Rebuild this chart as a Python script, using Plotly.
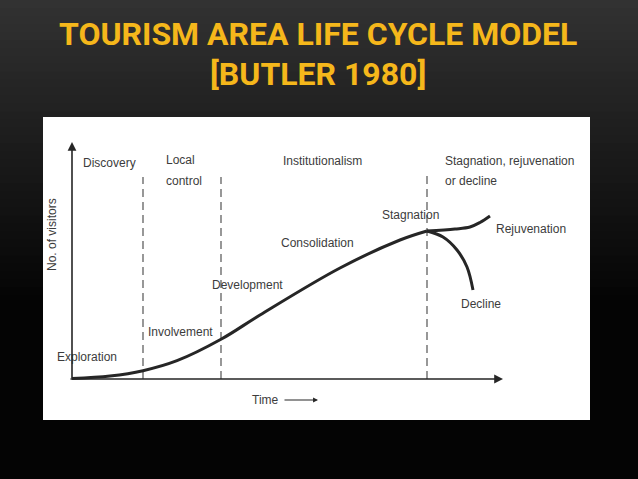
import plotly.graph_objects as go

# stage boundaries (time units) and top of each dashed divider
stage_bounds = [7.1, 14.9, 35.5]
bound_tops = [20.2, 20.2, 20.6]

# visitor curve
main_t = [0, 3.8, 7.1, 10.5, 14.9, 18.8, 26.8, 32.8, 35.5]
main_v = [0.05, 0.3, 0.83, 1.83, 3.97, 6.4, 11.1, 13.9, 14.8]
rejuv_t = [35.5, 38.3, 39.8, 40.8, 41.8]
rejuv_v = [14.8, 15.0, 15.2, 15.65, 16.3]
decline_t = [35.5, 37.1, 38.5, 39.5, 40.1]
decline_v = [14.8, 14.2, 12.9, 11.2, 8.9]

phase_labels = ['Discovery', 'Local', 'control', 'Institutionalism',
                'Stagnation, rejuvenation', 'or decline']
stage_labels = ['Exploration', 'Involvement', 'Development', 'Consolidation',
                'Stagnation', 'Rejuvenation', 'Decline']

x_title = 'Time'
y_title = 'No. of visitors'
title_lines = ['TOURISM AREA LIFE CYCLE MODEL', '[BUTLER 1980]']

W, H = 638, 479
INK = '#262626'
TXT = '#3c3c3c'
GOLD = '#F5B71B'
LABEL_FONT = dict(family='Liberation Sans, Arial', size=12, color=TXT)

# label anchor positions (left edge, vertical centre) in data units
phase_pos = [(0.9, 21.6), (9.2, 21.9), (9.2, 19.8), (20.9, 21.8), (37.1, 21.8), (37.1, 19.8)]
stage_pos = [(-1.7, 2.2), (7.4, 4.7), (13.8, 9.4), (20.7, 13.6),
             (30.8, 16.4), (42.2, 15.0), (38.7, 7.5)]

fig = go.Figure()

# dashed stage dividers
for xb, top in zip(stage_bounds, bound_tops):
    fig.add_trace(go.Scatter(x=[xb, xb], y=[0, top], mode='lines',
                             line=dict(color='#444', width=1.1, dash='8px,5px'),
                             hoverinfo='skip', showlegend=False))

for tx, vy in [(main_t, main_v), (rejuv_t, rejuv_v), (decline_t, decline_v)]:
    fig.add_trace(go.Scatter(x=tx, y=vy, mode='lines',
                             line=dict(color=INK, width=3, shape='spline', smoothing=1.0),
                             hoverinfo='skip', showlegend=False))

annotations = []
for txt, (lx, ly) in zip(phase_labels + stage_labels, phase_pos + stage_pos):
    annotations.append(dict(x=lx, y=ly, xref='x', yref='y', text=txt, showarrow=False,
                            xanchor='left', yanchor='middle', font=LABEL_FONT))

# axes drawn as arrows
annotations.append(dict(x=0, y=23.7, ax=0, ay=-0.1, xref='x', yref='y', axref='x', ayref='y',
                        text='', showarrow=True, arrowhead=2, arrowsize=1.1, arrowwidth=1.6,
                        arrowcolor=INK))
annotations.append(dict(x=43.1, y=0, ax=-0.3, ay=0, xref='x', yref='y', axref='x', ayref='y',
                        text='', showarrow=True, arrowhead=2, arrowsize=1.1, arrowwidth=1.6,
                        arrowcolor=INK))
annotations.append(dict(x=17.8, y=-2.1, xref='x', yref='y', text=x_title, showarrow=False,
                        xanchor='left', yanchor='middle', font=LABEL_FONT))
annotations.append(dict(x=24.6, y=-2.1, ax=21.1, ay=-2.1, xref='x', yref='y', axref='x', ayref='y',
                        text='', showarrow=True, arrowhead=2, arrowsize=0.9, arrowwidth=1.1,
                        arrowcolor=INK))
annotations.append(dict(x=-2.0, y=14.4, xref='x', yref='y', text=y_title, showarrow=False,
                        textangle=-90, xanchor='center', yanchor='middle', font=LABEL_FONT))

# slide title
for line, py in zip(title_lines, [34, 74]):
    annotations.append(dict(x=318 / W, y=1 - py / H, xref='paper', yref='paper', text=line,
                            showarrow=False, xanchor='center', yanchor='middle',
                            font=dict(family='Roboto, Liberation Sans, Arial', size=32,
                                      color=GOLD, weight='bold')))

# dark gradient background (overlapping bands, no seams) + white panel
shapes = []
n_bands = 60
for i in range(n_bands):
    px_top = i / n_bands * H
    level = max(0.0, 1 - px_top / 300)
    c = int(4 + 46 * level)
    shapes.append(dict(type='rect', xref='paper', yref='paper', x0=0, x1=1,
                       y0=0, y1=1 - i / n_bands,
                       fillcolor=f'rgb({c},{c},{c})', line=dict(width=0), layer='below'))
shapes.append(dict(type='rect', xref='paper', yref='paper', x0=43 / W, x1=590 / W,
                   y0=1 - 420 / H, y1=1 - 117 / H, fillcolor='white',
                   line=dict(width=0), layer='below'))

# axes span the whole slide: 1 data unit = 10 px, origin of the diagram at (72, 379)
fig.update_layout(
    width=W, height=H,
    margin=dict(l=0, r=0, t=0, b=0),
    paper_bgcolor='black',
    plot_bgcolor='rgba(0,0,0,0)',
    xaxis=dict(domain=[0, 1], range=[-7.2, (W - 72) / 10], visible=False, fixedrange=True),
    yaxis=dict(domain=[0, 1], range=[-(H - 379) / 10, 37.9], visible=False, fixedrange=True),
    annotations=annotations,
    shapes=shapes,
    showlegend=False,
)

fig.write_html("out.html", config={'displayModeBar': False},
               post_script="document.body.style.margin='0px';")
